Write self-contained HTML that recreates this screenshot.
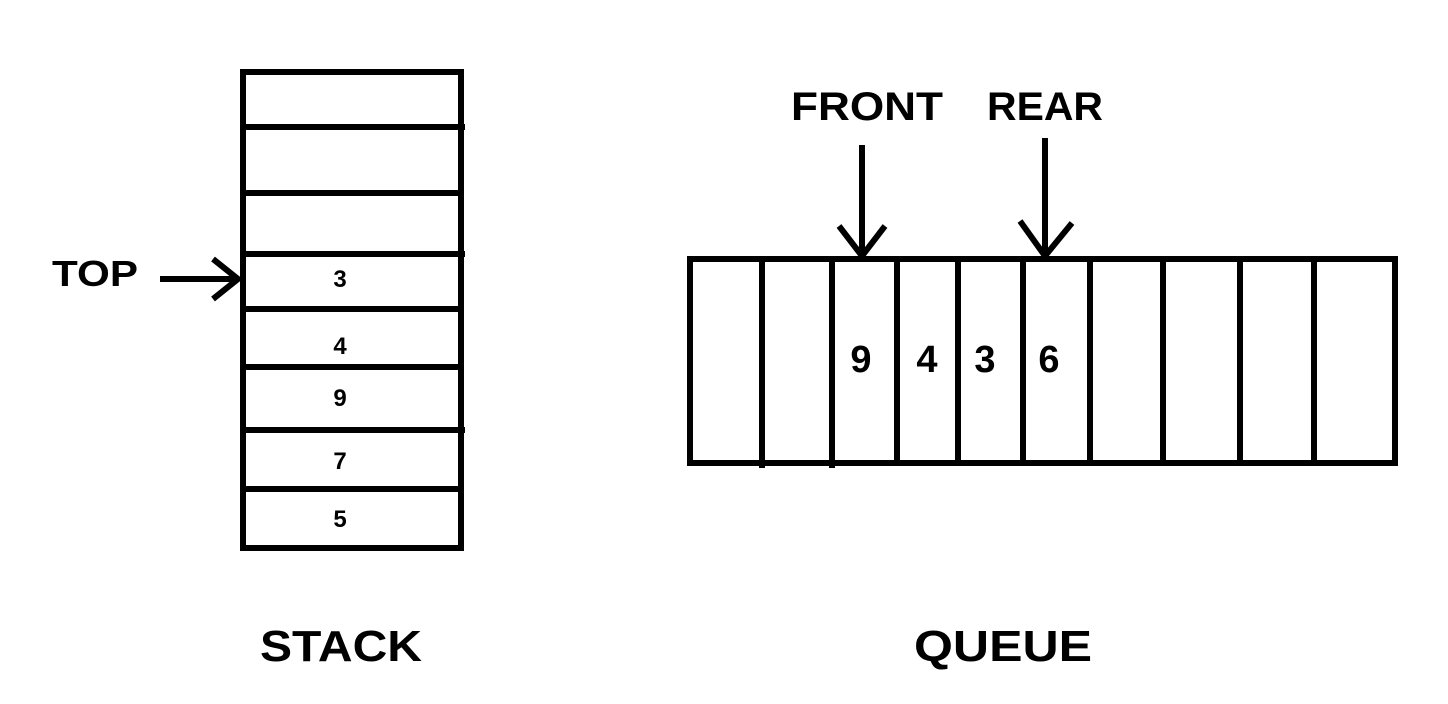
<!DOCTYPE html>
<html><head><meta charset="utf-8"><style>html,body{margin:0;padding:0;background:#fff}svg{display:block}</style></head>
<body>
<svg width="1448" height="704" viewBox="0 0 1448 704" xmlns="http://www.w3.org/2000/svg" font-family="'Liberation Sans', sans-serif" font-weight="bold">
<rect width="1448" height="704" fill="#fff"/>
<g stroke="#000" stroke-width="6" fill="none">
<rect x="243" y="72" width="218" height="476"/>
<line x1="243" y1="127" x2="465" y2="127"/>
<line x1="243" y1="193" x2="461" y2="193"/>
<line x1="243" y1="254" x2="465" y2="254"/>
<line x1="243" y1="309" x2="461" y2="309"/>
<line x1="243" y1="367" x2="461" y2="367"/>
<line x1="243" y1="430" x2="465" y2="430"/>
<line x1="243" y1="489" x2="461" y2="489"/>
<line x1="160" y1="279" x2="238" y2="279"/>
<polyline points="213,259 238,279 213,299"/>
<rect x="690" y="259" width="705" height="204"/>
<line x1="762" y1="259" x2="762" y2="468"/>
<line x1="832" y1="259" x2="832" y2="468"/>
<line x1="897" y1="259" x2="897" y2="463"/>
<line x1="958" y1="259" x2="958" y2="463"/>
<line x1="1023" y1="259" x2="1023" y2="463"/>
<line x1="1090" y1="259" x2="1090" y2="463"/>
<line x1="1163" y1="259" x2="1163" y2="463"/>
<line x1="1240" y1="259" x2="1240" y2="463"/>
<line x1="1314" y1="259" x2="1314" y2="463"/>
<line x1="862" y1="145" x2="862" y2="256"/>
<polyline points="839,226 862,256 885,226"/>
<line x1="1045" y1="138" x2="1045" y2="256"/>
<polyline points="1020,221 1045,256 1072,223"/>
</g>
<g fill="#000" text-anchor="middle">
<text x="340" y="287" font-size="24">3</text>
<text x="340" y="354" font-size="24">4</text>
<text x="340" y="406" font-size="24">9</text>
<text x="340" y="469" font-size="24">7</text>
<text x="340" y="527" font-size="24">5</text>
<text x="861" y="372" font-size="38">9</text>
<text x="927" y="372" font-size="38">4</text>
<text x="985" y="372" font-size="38">3</text>
<text x="1049" y="372" font-size="38">6</text>
</g>
<g fill="#000">
<text x="52" y="286" font-size="36" textLength="86" lengthAdjust="spacingAndGlyphs">TOP</text>
<text x="791" y="120" font-size="40" textLength="152" lengthAdjust="spacingAndGlyphs">FRONT</text>
<text x="987" y="120" font-size="40" textLength="116" lengthAdjust="spacingAndGlyphs">REAR</text>
<text x="260" y="661" font-size="44" textLength="162" lengthAdjust="spacingAndGlyphs">STACK</text>
<text x="914" y="661" font-size="44" textLength="178" lengthAdjust="spacingAndGlyphs">QUEUE</text>
</g>
</svg>
</body></html>
